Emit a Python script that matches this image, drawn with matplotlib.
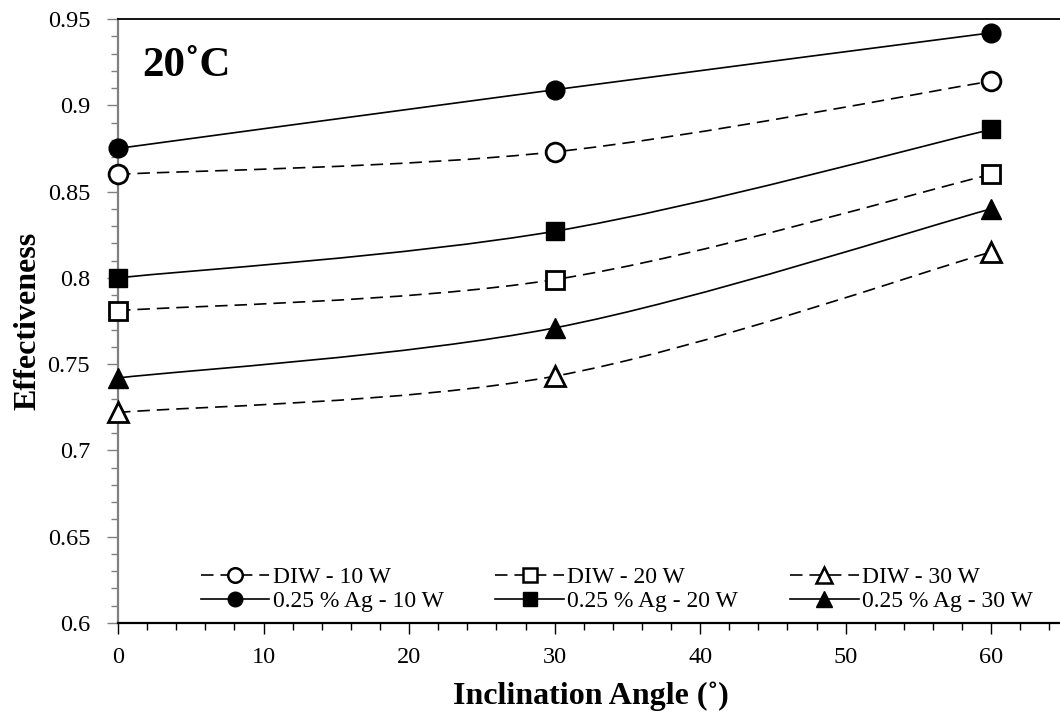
import matplotlib
matplotlib.use("Agg")
import matplotlib.pyplot as plt
from matplotlib.path import Path
from matplotlib.patches import PathPatch
from matplotlib.lines import Line2D
from matplotlib.ticker import MultipleLocator
import numpy as np

plt.rcParams['font.family'] = ['Liberation Serif', 'DejaVu Serif']
plt.rcParams['lines.scale_dashes'] = False

# Inclination angles (degrees)
angles = [0, 30, 60]

# Effectiveness of each working fluid / heat load
diw_10w = [0.860, 0.873, 0.914]
diw_20w = [0.781, 0.799, 0.860]
diw_30w = [0.722, 0.743, 0.815]
ag_10w = [0.875, 0.909, 0.942]
ag_20w = [0.800, 0.827, 0.886]
ag_30w = [0.742, 0.771, 0.840]

series_labels = ["DIW - 10 W", "DIW - 20 W", "DIW - 30 W",
                 "0.25 % Ag - 10 W", "0.25 % Ag - 20 W", "0.25 % Ag - 30 W"]

DASH = (0, (9.0, 5.0))
LW = 1.2


def smooth_path(xs, ys, t=1.0 / 6.0):
    """Smoothed line through the points, built from cubic Bezier segments."""
    pts = np.column_stack([xs, ys]).astype(float)
    n = len(pts)
    verts = [pts[0]]
    codes = [Path.MOVETO]
    for i in range(n - 1):
        p_prev = pts[max(i - 1, 0)]
        p0 = pts[i]
        p1 = pts[i + 1]
        p_next = pts[min(i + 2, n - 1)]
        c1 = p0 + (p1 - p_prev) * t
        c2 = p1 - (p_next - p0) * t
        verts += [c1, c2, p1]
        codes += [Path.CURVE4] * 3
    return Path(verts, codes)


fig = plt.figure(figsize=(10.6, 7.19), dpi=100)
ax = fig.add_axes([118 / 1060, 1 - 623 / 719, (1064 - 118) / 1060, (623 - 19) / 719])

series = [
    (diw_10w, 'o', 'white', DASH),
    (diw_20w, 's', 'white', DASH),
    (diw_30w, '^', 'white', DASH),
    (ag_10w, 'o', 'black', '-'),
    (ag_20w, 's', 'black', '-'),
    (ag_30w, '^', 'black', '-'),
]

handles = []
for (vals, mk, fc, ls), lab in zip(series, series_labels):
    patch = PathPatch(smooth_path(angles, vals), fill=False, edgecolor='black',
                      linewidth=LW, linestyle=ls, zorder=2, clip_on=False)
    ax.add_patch(patch)
    ms = 13.5 if mk != '^' else 14.5
    ax.plot(angles, vals, linestyle='none', marker=mk, markersize=ms,
            markerfacecolor=fc, markeredgecolor='black',
            markeredgewidth=2.0 if fc == 'white' else 1.0,
            zorder=3, clip_on=False)
    handles.append(Line2D([], [], color='black', linewidth=LW, linestyle=ls,
                          marker=mk, markersize=10.5 if mk != '^' else 11,
                          markerfacecolor=fc, markeredgecolor='black',
                          markeredgewidth=1.8 if fc == 'white' else 1.0,
                          label=lab))

ax.set_xlim(0, 65)
ax.set_ylim(0.6, 0.95)

ax.xaxis.set_major_locator(MultipleLocator(10))
ax.xaxis.set_minor_locator(MultipleLocator(2))
ax.yaxis.set_major_locator(MultipleLocator(0.05))
ax.yaxis.set_minor_locator(MultipleLocator(0.01))


def yfmt(v, pos):
    return f"{v:.2f}".rstrip('0')


ax.yaxis.set_major_formatter(plt.FuncFormatter(yfmt))

ax.tick_params(axis='both', which='both', direction='out', labelsize=17.5)
ax.tick_params(axis='x', which='major', length=8, width=1.0, color='black', pad=9)
ax.tick_params(axis='x', which='minor', length=5, width=1.0, color='black')
ax.tick_params(axis='y', which='major', length=8, width=1.0, color='#808080', pad=12)
ax.tick_params(axis='y', which='minor', length=5, width=1.0, color='#808080')

ax.spines['left'].set_color('#808080')
ax.spines['left'].set_linewidth(1.6)
ax.spines['bottom'].set_linewidth(1.6)
ax.spines['top'].set_linewidth(1.3)
ax.spines['right'].set_visible(False)

ax.set_xlabel("Inclination Angle (˚)", fontsize=23, fontweight='bold', labelpad=10)
ax.set_ylabel("Effectiveness", fontsize=23, fontweight='bold', labelpad=4)

ax.text(0.026, 0.923, "20˚C", transform=ax.transAxes, fontsize=31,
        fontweight='bold', ha='left', va='center')

order = [0, 3, 1, 4, 2, 5]
leg = ax.legend([handles[i] for i in order], [series_labels[i] for i in order],
                ncol=3, loc='lower left', bbox_to_anchor=(0.076, 0.0),
                frameon=False, fontsize=17, handlelength=2.9, handletextpad=0.15,
                columnspacing=2.2, labelspacing=0.1, borderaxespad=0.05)

fig.savefig("out.png", dpi=100)
